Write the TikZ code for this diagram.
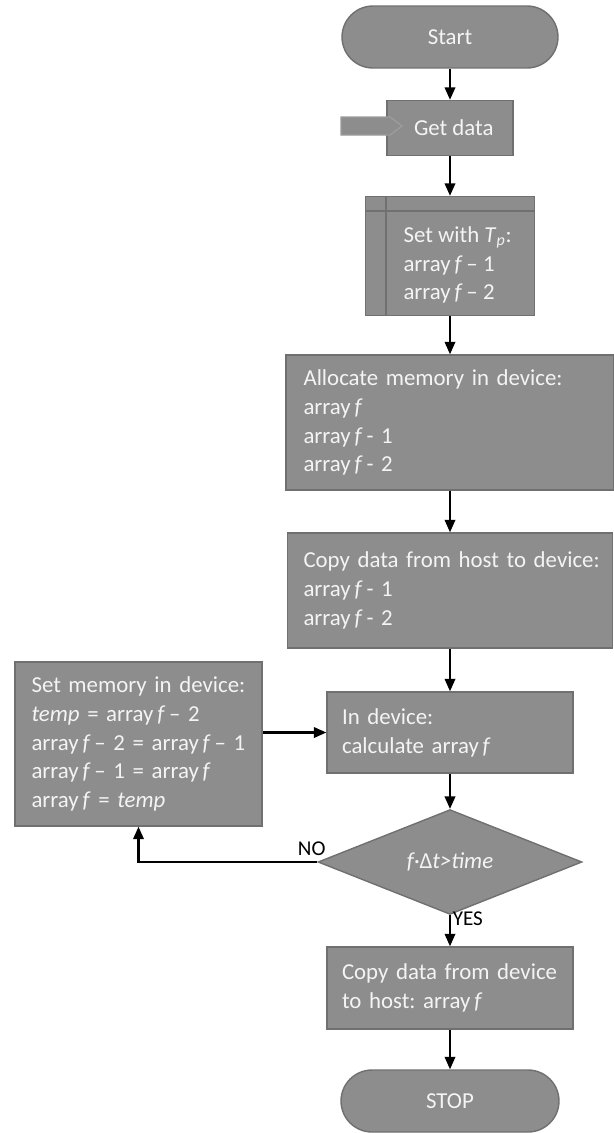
\documentclass[tikz,border=0pt]{standalone}
\usepackage{fontspec}
\setmainfont{Carlito}
\usetikzlibrary{positioning,arrows.meta,calc,shapes.geometric}

\definecolor{boxgray}{RGB}{141,141,141}
\definecolor{boxedge}{RGB}{112,112,112}
\definecolor{boxtext}{RGB}{244,244,244}
\newcommand{\flowfont}{\fontsize{13}{16.4}\selectfont\frenchspacing}
\newcommand{\arrf}{array\,\textit{f}}

\tikzset{
  procbox/.style={draw=boxedge, line width=0.8pt, fill=boxgray, text=boxtext, font=\flowfont, align=left, inner ysep=2pt},
  termbox/.style={procbox, align=center, rounded corners=0.62cm, minimum height=1.24cm},
  decbox/.style={diamond, draw=boxedge, line width=0.8pt, fill=boxgray, text=boxtext, font=\flowfont\itshape, inner sep=0pt},
  flowarrow/.style={line width=1.2pt, -{Triangle[length=0.25cm,width=0.21cm]}},
  branch/.style={font=\fontsize{12}{14}\selectfont, text=black, inner sep=1pt}
}

\begin{document}
\begin{tikzpicture}[x=0.02cm, y=-0.02cm]
  \useasboundingbox (0,0) rectangle (614,1133);

  % main column
  \node[termbox, minimum width=4.32cm] (start) at (450,37) {Start};
  \node[procbox, align=center, minimum width=2.52cm, minimum height=1.1cm] (getdata) at (450,128) {\hspace*{0.15cm}Get data};
  \filldraw[draw=boxedge!70!white, fill=boxgray, line width=0.8pt]
    (341,117) -- (390,117) -- (402,126) -- (390,135) -- (341,135) -- cycle;

  % internal storage block
  \node[procbox, minimum width=3.38cm, minimum height=2.38cm] (settp) at (450,256) {};
  \draw[draw=boxedge, line width=0.8pt]
    ($(settp.north west)+(0,15)$) -- ($(settp.north east)+(0,15)$)
    ($(settp.north west)+(21,0)$) -- ($(settp.south west)+(21,0)$);
  \node[procbox, draw=none, fill=none, anchor=west, inner sep=0pt] (settptext) at ($(settp.west)+(38,9)$)
    {Set with \textit{T}\textsubscript{\textit{p}}:\\ \arrf\,-- 1\\ \arrf\,-- 2};

  \node[procbox, text width=5.86cm, inner xsep=0.35cm, minimum height=2.7cm] (alloc) at (450,422.5)
    {Allocate memory in device:\\ \arrf\\ \arrf\,- 1\\ \arrf\,- 2};
  \node[procbox, text width=5.86cm, inner xsep=0.32cm, minimum height=2.3cm] (copyhd) at (450,590.5)
    {\mbox{Copy data from host to device:}\\ \arrf\,- 1\\ \arrf\,- 2};
  \node[procbox, text width=4.32cm, inner xsep=0.3cm, minimum height=1.62cm] (indev) at (450,732.5)
    {In device:\\ calculate \arrf};
  \node[procbox, text width=4.28cm, inner xsep=0.33cm, minimum height=3.28cm] (setmem) at (138.5,744)
    {Set memory in device:\\ \textit{temp} = \arrf\,-- 2\\ \mbox{\arrf\,-- 2 = \arrf\,-- 1}\\ \arrf\,-- 1 = \arrf\\ \arrf{} = \textit{temp}};
  \node[decbox, minimum width=5.28cm, minimum height=1.82cm] (dec) at (450,862) {f·{\upshape Δ}t>time};
  \node[procbox, text width=4.32cm, inner xsep=0.3cm, minimum height=1.64cm] (copydh) at (450,988)
    {\mbox{Copy data from device}\\ to host: \arrf};
  \node[termbox, minimum width=4.36cm] (stop) at (450,1101) {STOP};

  % connectors
  \foreach \src/\dst in {start/getdata, getdata/settp, settp/alloc, alloc/copyhd, copyhd/indev, indev/dec, copydh/stop}
    \draw[flowarrow] (\src) -- (\dst);
  \draw[flowarrow] (dec) -- node[branch, pos=0.12, right] (yes) {YES} (copydh);
  \draw[flowarrow] (setmem.east |- indev) -- (indev);
  \draw[flowarrow] (dec.west) -| node[branch, pos=0, anchor=south east, xshift=0.22cm, yshift=0.08cm] (no) {NO} (setmem.south);
\end{tikzpicture}
\end{document}
